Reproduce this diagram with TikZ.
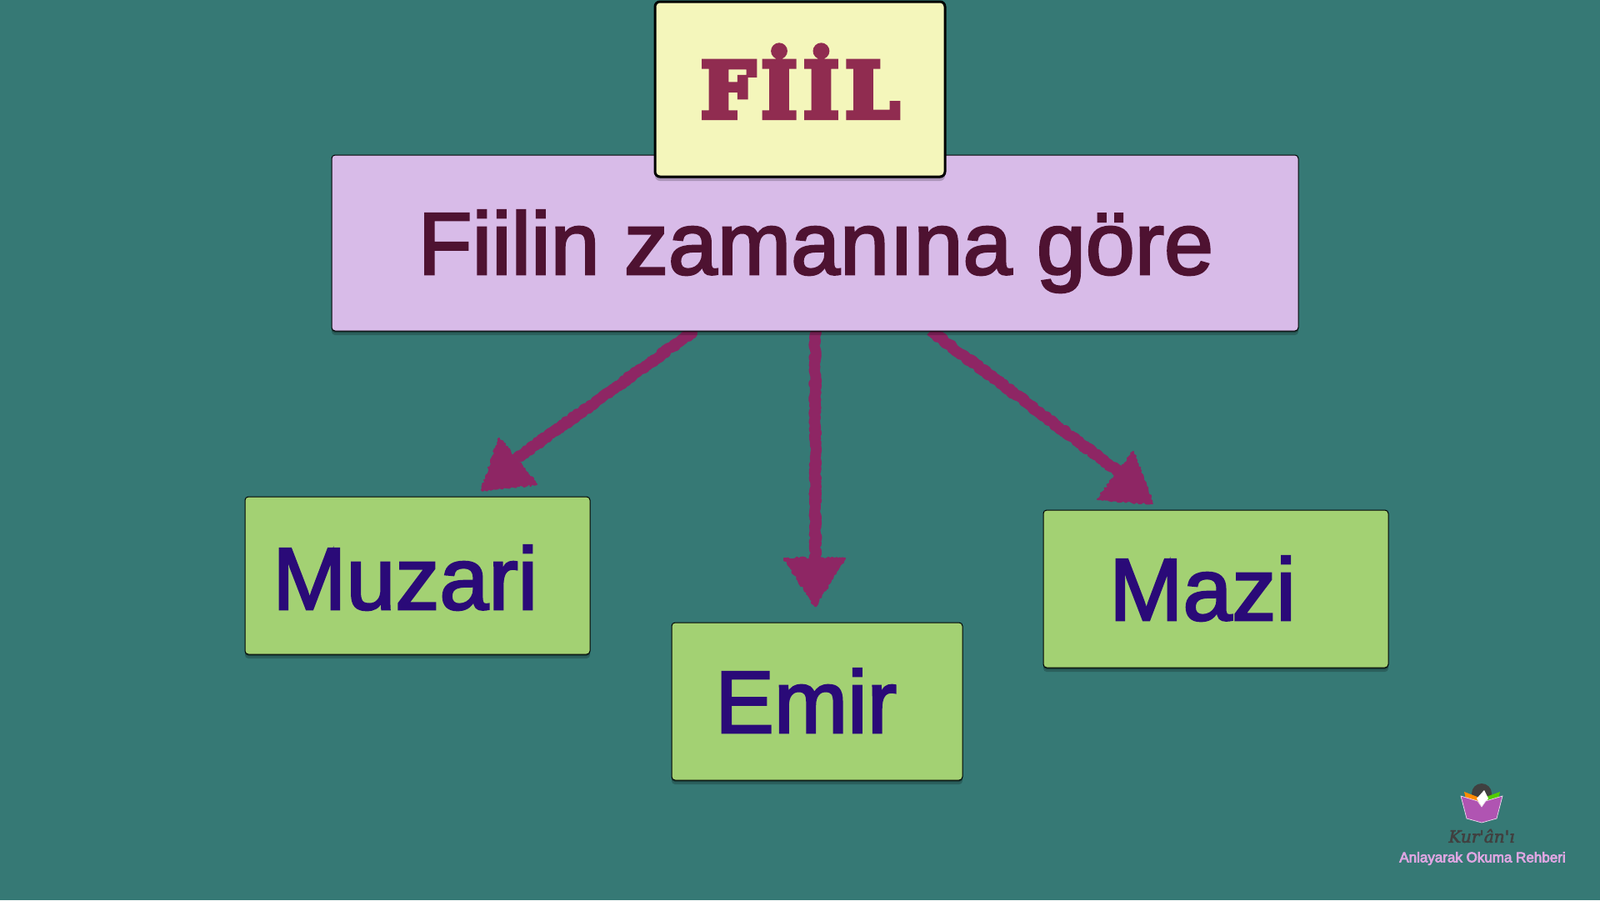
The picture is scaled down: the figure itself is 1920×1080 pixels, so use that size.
\documentclass[tikz,border=0pt]{standalone}
\usepackage{fontspec}
\setmainfont{Liberation Sans}
\newfontfamily\fiilfont[FakeBold=7,LetterSpace=8]{DejaVu Serif Bold}
\newfontfamily\labelfont[FakeBold=2.5]{Liberation Sans}
\newfontfamily\logotitlefont[FakeBold=3]{DejaVu Serif}
\newfontfamily\logosubfont[FakeBold=4]{Liberation Sans}
\usetikzlibrary{positioning,shadows,backgrounds,decorations.pathmorphing}
\definecolor{bgteal}{RGB}{54,121,117}
\definecolor{darkwine}{RGB}{78,18,49}
\definecolor{darkindigo}{RGB}{42,10,120}
\definecolor{wine}{RGB}{144,44,80}
\definecolor{chalkwine}{RGB}{142,38,100}
\definecolor{lilac}{RGB}{216,187,232}
\definecolor{palelime}{RGB}{244,246,187}
\definecolor{leaf}{RGB}{163,209,115}
\definecolor{bookpink}{RGB}{176,84,178}
\definecolor{logopink}{RGB}{222,166,226}

\begin{document}
\begin{tikzpicture}[x=1pt,y=-1pt]
    % Stili
    \tikzset{
        soft_shadow/.style={
            drop shadow={shadow xshift=0pt,shadow yshift=-2pt,opacity=.3,fill=black},
            drop shadow={shadow xshift=0pt,shadow yshift=-5pt,opacity=.2,fill=black}
        },
        top_box/.style={
            draw=black,
            fill=palelime,
            line width=3pt,
            rounded corners=6pt,
            soft_shadow,
            minimum width=348pt,
            minimum height=210pt,
            outer sep=0pt
        },
        question_box/.style={
            draw=black,
            fill=lilac,
            line width=1pt,
            rounded corners=4pt,
            soft_shadow,
            minimum width=1160pt,
            minimum height=211pt,
            outer sep=0pt
        },
        answer_box/.style={
            draw=black,
            fill=leaf,
            line width=1pt,
            rounded corners=4pt,
            soft_shadow,
            minimum height=189pt,
            outer sep=0pt
        },
        answer_text/.style={
            anchor=base west,
            inner sep=0pt,
            text=darkindigo,
            font=\labelfont\fontsize{106}{120}\selectfont
        },
        chalk_line/.style={
            draw=chalkwine,
            line width=13pt,
            line join=round,
            decorate,
            decoration={random steps,segment length=2pt,amplitude=1.5pt}
        },
        chalk_head/.style={
            draw=chalkwine,
            fill=chalkwine,
            line width=2pt,
            line join=round,
            decorate,
            decoration={random steps,segment length=2pt,amplitude=1.5pt}
        }
    }

    % Riquadri
    \node[question_box] (fiilin) at (978,291.5) {};
    \node[top_box] (fiil) at (960,107) {};
    \node[answer_box,minimum width=414pt] (muzari) at (501,690.5) {};
    \node[answer_box,minimum width=349pt] (emir) at (980.5,841.5) {};
    \node[answer_box,minimum width=414pt] (mazi) at (1459,706.5) {};

    % Testi
    \node[anchor=base,inner sep=0pt,text=wine,font=\fiilfont\fontsize{92}{110}\selectfont] (fiil_text) at (960,141) {FİİL};
    \node[anchor=base,inner sep=0pt,text=darkwine,font=\labelfont\fontsize{106}{120}\selectfont] (fiilin_text) at (979,329) {Fiilin zamanına göre};
    \node[answer_text] (muzari_text) at (327,731) {Muzari};
    \node[answer_text] (emir_text) at (858,879) {Emir};
    \node[answer_text] (mazi_text) at (1331,744) {Mazi};

    % Sfondo e frecce
    \begin{scope}[on background layer]
        \fill[bgteal] (0,0) rectangle (1920,1080);
        \draw[chalk_line] ([xshift=-145pt]fiilin.south) -- ([xshift=119pt,yshift=46pt]muzari.north);
        \draw[chalk_line] (fiilin.south) -- ([xshift=-2pt,yshift=57pt]emir.north);
        \draw[chalk_line] ([xshift=139pt]fiilin.south) -- ([xshift=-109pt,yshift=40pt]mazi.north);
        \filldraw[chalk_head] (599,526) -- (578,588) -- (644,581) -- cycle;
        \filldraw[chalk_head] (941,670) -- (1014,670) -- (978,727) -- cycle;
        \filldraw[chalk_head] (1360,542) -- (1317,599) -- (1383,604) -- cycle;
    \end{scope}
    \useasboundingbox (0,0) rectangle (1920,1080);

    % Logo
    \fill[black!75] (1778,952) circle (12);
    \fill[orange!90!yellow] (1757,950) -- (1778,958) -- (1778,968) -- (1759,958) -- cycle;
    \fill[green!60!yellow!80!black] (1800,950) -- (1778,958) -- (1778,968) -- (1798,958) -- cycle;
    \fill[white] (1772,958) -- (1781,948) -- (1786,958) -- (1778,968) -- cycle;
    \filldraw[draw=white!80!bookpink,fill=bookpink,line width=.7pt] (1753,955) -- (1773,961) -- (1778,968) -- (1783,961) -- (1803,955) -- (1796,982) -- (1778,987) -- (1760,982) -- cycle;
    \node[inner sep=0pt,text=black!75,font=\logotitlefont\itshape\fontsize{20}{24}\selectfont] (logo_title) at (1778,1003) {Kur'ân'ı};
    \node[inner sep=0pt,text=logopink,font=\logosubfont\fontsize{17}{20}\selectfont] (logo_subtitle) at (1779,1030) {Anlayarak Okuma Rehberi};
\end{tikzpicture}
\end{document}
